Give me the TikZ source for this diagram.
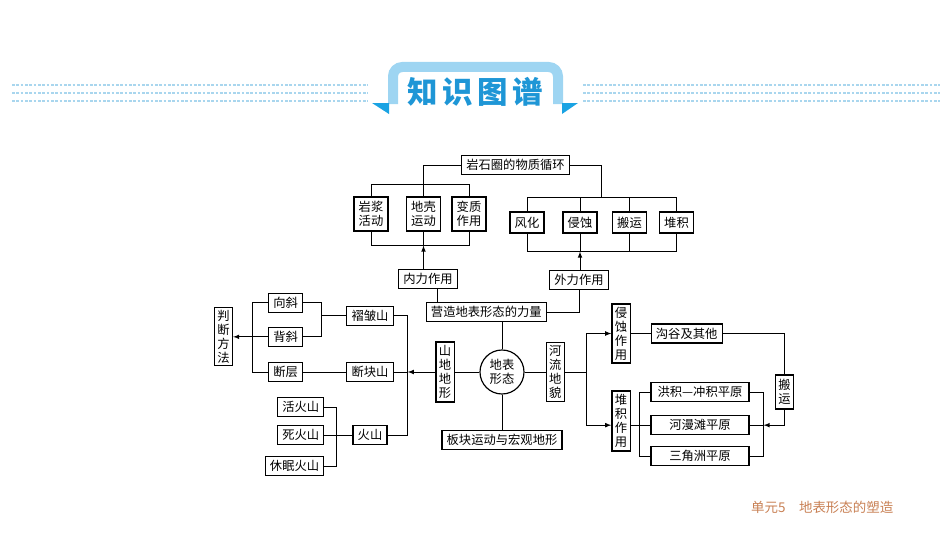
\documentclass[tikz,border=0pt]{standalone}
\usepackage{fontspec}
\setmainfont{Noto Sans CJK SC}
\usetikzlibrary{arrows,positioning,calc}
\definecolor{tabblue}{RGB}{158,213,242}
\definecolor{tipblue}{RGB}{26,163,227}
\definecolor{titleblue}{RGB}{30,150,214}
\definecolor{dotblue}{RGB}{169,214,238}
\definecolor{unitbrown}{RGB}{200,128,84}

\begin{document}
\begin{tikzpicture}[
        x=0.03cm, y=-0.03cm,
        font=\fontsize{10.5}{12}\selectfont,
        box/.style={draw=black, line width=1pt, fill=white, align=center, inner xsep=4pt, inner ysep=1pt, minimum height=0.57cm},
        pair/.style={box, minimum height=1.02cm},
        vbox/.style={draw=black, line width=1pt, fill=white, align=center, inner xsep=2.5pt, inner ysep=2pt},
        dots/.style={dotblue, line width=2.1pt, dash pattern=on 2.2pt off 1.5pt},
        link/.style={line width=0.8pt},
        arrow/.style={->, >=latex, line width=0.8pt}
    ]
        \useasboundingbox (0,0) rectangle (950,535);

        % title banner
        \foreach \y in {85,93,101} {
            \draw[dots] (12,\y) -- (368,\y);
            \draw[dots] (583,\y) -- (940,\y);
        }
        \draw[tabblue, line width=0.3cm, rounded corners=8pt] (393,104) -- (393,67) -- (558,67) -- (558,104);
        \fill[tipblue] (372,103) -- (389,103) -- (389,114) -- cycle;
        \fill[tipblue] (578,103) -- (562,103) -- (562,114) -- cycle;
        \node[font=\fontsize{26}{28}\selectfont\bfseries, text=titleblue] (title) at (475.5,92) {知\kern4pt 识\kern4pt 图\kern4pt 谱};

        % forces
        \node[box] (cycle) at (515.5,165) {岩石圈的物质循环};
        \node[pair] (magma) at (371,214) {岩浆\\活动};
        \node[pair] (crust) at (423.5,214) {地壳\\运动};
        \node[pair] (meta) at (469,214) {变质\\作用};
        \node[box] (inner) at (428,279) {内力作用};
        \node[box, minimum height=0.63cm] (weath) at (527,222.5) {风化};
        \node[box, minimum height=0.63cm] (eros) at (580,222.5) {侵蚀};
        \node[box, minimum height=0.63cm] (trans) at (629.5,222.5) {搬运};
        \node[box, minimum height=0.63cm] (depos) at (676.5,222.5) {堆积};
        \node[box] (outer) at (579,280) {外力作用};

        % landforms
        \node[draw, circle, line width=1pt, fill=white, align=center, inner sep=0pt, minimum size=1.32cm] (shape) at (502,372) {地表\\形态};
        \node[box, above=0.81cm of shape, xshift=-0.47cm] (force) {营造地表形态的力量};
        \node[box, below=1.05cm of shape] (plate) {板块运动与宏观地形};
        \node[vbox, minimum height=1.8cm, left=0.74cm of shape] (mount) {山\\地\\地\\形};
        \node[vbox, minimum height=1.77cm, right=0.63cm of shape] (river) {河\\流\\地\\貌};

        \node[box, left=1.25cm of mount] (block) {断块山};
        \node[box, above=1.08cm of block] (fold) {褶皱山};
        \node[box, below=1.29cm of block] (volc) {火山};
        \node[box, left=1.29cm of block] (fault) {断层};
        \node[box, above=0.45cm of fault] (anticl) {背斜};
        \node[box, above=0.42cm of anticl] (syncl) {向斜};
        \node[vbox, minimum height=1.74cm, left=1.05cm of anticl] (judge) {判\\断\\方\\法};
        \node[box, left=0.84cm of volc] (extinct) {死火山};
        \node[box, above=0.24cm of extinct] (active) {活火山};
        \node[box, below=0.33cm of extinct.south east, anchor=north east] (dormant) {休眠火山};

        \node[vbox, minimum height=1.77cm] (erosion) at (621,333.5) {侵\\蚀\\作\\用};
        \node[vbox, minimum height=1.8cm] (deposit) at (621,421) {堆\\积\\作\\用};
        \node[box, right=0.6cm of erosion] (gully) {沟谷及其他};
        \node[vbox, minimum height=1.02cm] (carry) at (784.5,392) {搬\\运};
        \node[box, minimum width=2.94cm] (alluv) at (700,392) {洪积—冲积平原};
        \node[box, minimum width=2.94cm, below=0.39cm of alluv] (flood) {河漫滩平原};
        \node[box, minimum width=2.94cm, below=0.33cm of flood] (delta) {三角洲平原};

        \node[text=unitbrown, font=\fontsize{11.5}{13}\selectfont, anchor=west] (unit) at (747,507) {单元5\quad 地表形态的塑造};

        % internal cycle
        \draw[link] (cycle.west) -| (crust.north);
        \draw[link] (magma.north) -- ++(0,-12) -| (meta.north);
        \coordinate (inbar) at ($(crust.south)+(0,14)$);
        \draw[link] (magma.south) |- (inbar) -| (meta.south);
        \draw[link] (crust.south) -- (inbar);
        \draw[arrow] (inner.north -| inbar) -- (inbar);
        \coordinate (drop) at ($(inner.south)+(9,0)$);
        \draw[link] (drop) -- (drop |- force.north);

        % external cycle
        \draw[link] (weath.north) -- ++(0,-14) -| (depos.north);
        \draw[link] (eros.north) -- ++(0,-14);
        \draw[link] (trans.north) -- ++(0,-14);
        \draw[link] (cycle.east) -| ($(weath.north)!0.5!(depos.north)+(0,-14)$);
        \coordinate (outbar) at ($(eros.south)+(0,18)$);
        \draw[link] (weath.south) |- (outbar) -| (depos.south);
        \draw[link] (eros.south) -- (outbar);
        \draw[link] (trans.south) -- (trans.south |- outbar);
        \draw[arrow] (outer.north -| outbar) -- (outbar);
        \draw[link] (outer.south) |- (force.east);

        % centre
        \draw[link] (force.south -| shape) -- (shape.north);
        \draw[link] (shape.south) -- (shape.south |- plate.north);
        \draw[link] (shape.west) -- (mount.east);
        \draw[link] (shape.east) -- (river.west);

        % mountains
        \coordinate (mbar) at ($(block.east)+(14,0)$);
        \draw[link] (fold.east) -| (mbar) |- (volc.east);
        \draw[link] (block.east) -- (mbar);
        \draw[arrow] (mount.west) -- (mbar);
        \coordinate (fbar) at ($(syncl.east)+(18,0)$);
        \draw[link] (syncl.east) -- (fbar) |- (anticl.east);
        \draw[link] (fold.west) -- (fold.west -| fbar);
        \draw[link] (fault.east) -- (block.west);
        \coordinate (jbar) at ($(syncl.west)+(-16,0)$);
        \draw[link] (syncl.west) -- (jbar) |- (fault.west);
        \draw[arrow] (anticl.west) -- (anticl.west -| judge.east);
        \coordinate (vbar) at ($(active.east)+(12,0)$);
        \draw[link] (active.east) -- (vbar) |- (dormant.east);
        \draw[link] (extinct.east) -- (volc.west);

        % rivers
        \coordinate (rbar) at ($(river.east)+(22,0)$);
        \draw[arrow] (river.east) -- (rbar) |- (erosion.west);
        \draw[arrow] (rbar) |- (deposit.west |- flood.west);
        \draw[link] (erosion.east) -- (gully.west);
        \draw[link] (gully.east) -| (carry.north);
        \coordinate (dbar) at ($(alluv.west)+(-11,0)$);
        \draw[link] (alluv.west) -- (dbar) |- (delta.west);
        \draw[link] (deposit.east |- flood.west) -- (flood.west);
        \coordinate (cbar) at ($(alluv.east)+(14,0)$);
        \draw[link] (alluv.east) -- (cbar) |- (delta.east);
        \draw[link] (flood.east) -- (flood.east -| cbar);
        \draw[arrow] (carry.south) |- (flood.east -| cbar);
    \end{tikzpicture}
\end{document}
